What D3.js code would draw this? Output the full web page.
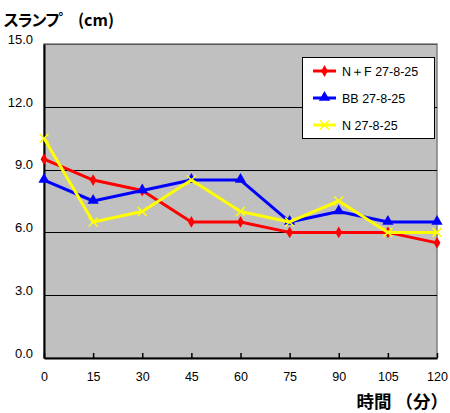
<!DOCTYPE html>
<html><head><meta charset="utf-8">
<script src="https://cdn.jsdelivr.net/npm/d3@7"></script>
<style>body{margin:0;background:#fff}svg{display:block}</style>
</head><body>
<script>
const times = [0, 15, 30, 45, 60, 75, 90, 105, 120];
const seriesNames = ["N＋F 27-8-25", "BB 27-8-25", "N 27-8-25"];
const nfValues = [9.5, 8.5, 8.0, 6.5, 6.5, 6.0, 6.0, 6.0, 5.5];
const bbValues = [8.5, 7.5, 8.0, 8.5, 8.5, 6.5, 7.0, 6.5, 6.5];
const nValues  = [10.5, 6.5, 7.0, 8.5, 7.0, 6.5, 7.5, 6.0, 6.0];
const yTicks = [0, 3, 6, 9, 12, 15];
const colors = ["#ff0000", "#0000ff", "#ffff00"];
const markers = ["diamond", "triangle", "cross"];

const W = 450, H = 413;
const m = {left: 44, right: 437, top: 44, bottom: 358};
const svg = d3.select("body").append("svg").attr("width", W).attr("height", H);
const x = d3.scaleLinear().domain([0, 120]).range([m.left, m.right]);
const y = d3.scaleLinear().domain([0, 15]).range([m.bottom, m.top]);
const font = "'Liberation Sans', Arial, sans-serif";
const jfont = "'Noto Sans CJK JP', sans-serif";

// plot area
svg.append("rect").attr("x", m.left).attr("y", m.top)
  .attr("width", m.right - m.left).attr("height", m.bottom - m.top)
  .attr("fill", "#c0c0c0").attr("stroke", "#808080").attr("stroke-width", 1.5);

// gridlines
svg.append("g").selectAll("line").data(yTicks.filter(d => d > 0)).join("line")
  .attr("x1", m.left).attr("x2", m.right)
  .attr("y1", d => Math.round(y(d)) + 0.5).attr("y2", d => Math.round(y(d)) + 0.5)
  .attr("stroke", d => d === 15 ? "#555" : "#000").attr("stroke-width", 1.2);

// y axis
const yAxis = d3.axisLeft(y).tickValues(yTicks).tickFormat(d3.format(".1f")).tickSize(0).tickPadding(11);
const gy = svg.append("g").attr("transform", `translate(${m.left},0)`).call(yAxis);
gy.select(".domain").attr("stroke", "#000").attr("stroke-width", 2);
gy.selectAll("text").attr("font-family", font).attr("font-size", 13).attr("fill", "#000").attr("dy", "-0.05em");

// x axis
const xAxis = d3.axisBottom(x).tickValues(times).tickSizeInner(-5).tickSizeOuter(0).tickPadding(14);
const gx = svg.append("g").attr("transform", `translate(0,${m.bottom})`).call(xAxis);
gx.select(".domain").attr("stroke", "#000").attr("stroke-width", 2);
gx.selectAll(".tick line").attr("stroke", "#000").attr("stroke-width", 1.5);
gx.selectAll("text").attr("font-family", font).attr("font-size", 12.5).attr("fill", "#000");

// series
const allSeries = [nfValues, bbValues, nValues];
const line = d3.line().x((d, i) => x(times[i])).y(d => y(d));

function drawMarker(g, type, color, cx, cy) {
  if (type === "diamond") {
    g.append("path").attr("d", d3.symbol(d3.symbolDiamond, 40)())
      .attr("transform", `translate(${cx},${cy})`).attr("fill", color);
  } else if (type === "triangle") {
    g.append("path").attr("d", d3.symbol(d3.symbolTriangle, 55)())
      .attr("transform", `translate(${cx},${cy - 0.5})`).attr("fill", color);
  } else {
    const s = 4.5;
    g.append("path").attr("d", `M${cx - s},${cy - s}L${cx + s},${cy + s}M${cx - s},${cy + s}L${cx + s},${cy - s}`)
      .attr("stroke", color).attr("stroke-width", 1.5).attr("fill", "none");
  }
}

allSeries.forEach((vals, k) => {
  const g = svg.append("g");
  g.append("path").datum(vals).attr("d", line).attr("fill", "none")
    .attr("stroke", colors[k]).attr("stroke-width", 3).attr("stroke-linejoin", "round");
  vals.forEach((v, i) => drawMarker(g, markers[k], colors[k], x(times[i]), y(v)));
});

// legend
const lg = svg.append("g");
lg.append("rect").attr("x", 302.5).attr("y", 57.5).attr("width", 132).attr("height", 81)
  .attr("fill", "#fff").attr("stroke", "#000").attr("stroke-width", 1);
seriesNames.forEach((name, k) => {
  const ly = 71 + k * 27;
  lg.append("line").attr("x1", 313).attr("x2", 336).attr("y1", ly).attr("y2", ly)
    .attr("stroke", colors[k]).attr("stroke-width", 3);
  drawMarker(lg, markers[k], colors[k], 324.5, ly);
  lg.append("text").attr("x", 342).attr("y", ly + 4.5).text(name)
    .attr("font-family", font).attr("font-size", 12.5).attr("fill", "#000");
});

// titles
const t = svg.append("text").attr("x", 3).attr("y", 26)
  .attr("font-family", jfont).attr("font-size", 16).attr("font-weight", "bold").attr("fill", "#000");
t.append("tspan").attr("letter-spacing", -2).text("スランフ゜");
t.append("tspan").attr("x", 78).text("(cm)");
svg.append("text").attr("x", 448).attr("y", 408).attr("text-anchor", "end").text("時間 （分）")
  .attr("font-family", jfont).attr("font-size", 17.5).attr("font-weight", "bold").attr("fill", "#000");
</script>
</body></html>
